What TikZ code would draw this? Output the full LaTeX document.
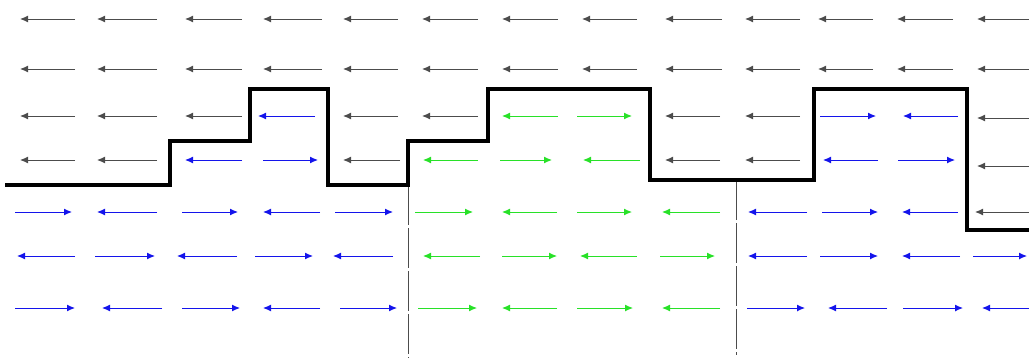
\documentclass[tikz,border=0pt]{standalone}
\usetikzlibrary{arrows.meta}
\definecolor{arrblue}{RGB}{20,20,235}
\definecolor{arrgreen}{RGB}{40,225,40}
\tikzset{
  base/.style={line width=1pt,-{Latex[length=8pt,width=7pt]}},
  blk/.style={base,black!70},
  blu/.style={base,arrblue},
  grn/.style={base,arrgreen},
  stepline/.style={line width=3.4pt,black,line join=miter},
  divider/.style={line width=0.7pt,black!70,dash pattern=on 40pt off 3pt}
}
\newcommand\arw[4]{\draw[#1] (#2,#4) -- (#3,#4);}
\begin{document}
\begin{tikzpicture}[x=1pt,y=-1pt]
\useasboundingbox (0,0) rectangle (1029,360);
% rows 1 and 2: black, pointing left
\foreach \y in {19,69}{
  \foreach \h/\t in {20/75,97/157,185/242,263/322,343/398,422/478,502/558,582/637,665/722,745/800,818/873,897/953,977/1029}{
    \arw{blk}{\t}{\h}{\y}
  }
}
% row 3
\foreach \h/\t in {20/75,97/157,185/242,343/398,422/478,665/720,745/800}{\arw{blk}{\t}{\h}{116}}
\arw{blu}{315}{258}{116}
\arw{grn}{558}{502}{116}
\arw{grn}{577}{632}{116}
\arw{blu}{820}{876}{116}
\arw{blu}{958}{903}{116}
\arw{blk}{1029}{977}{118}
% row 4
\foreach \h/\t in {20/75,97/157,343/400,665/720,745/800}{\arw{blk}{\t}{\h}{160}}
\arw{blu}{242}{185}{160}
\arw{blu}{263}{318}{160}
\arw{grn}{478}{423}{160}
\arw{grn}{500}{552}{160}
\arw{grn}{640}{583}{160}
\arw{blu}{878}{823}{160}
\arw{blu}{898}{955}{160}
\arw{blk}{1029}{977}{166}
% row 5
\foreach \a/\b in {15/72,157/97,182/238,320/263,335/393,807/748,822/878,958/902}{\arw{blu}{\a}{\b}{212}}
\foreach \a/\b in {415/473,557/502,577/632,720/662}{\arw{grn}{\a}{\b}{212}}
\arw{blk}{1029}{975}{212}
% row 6
\foreach \a/\b in {75/17,95/155,237/177,255/313,393/333,807/748,820/878,960/902,973/1027}{\arw{blu}{\a}{\b}{256}}
\foreach \a/\b in {480/423,502/557,637/580,660/715}{\arw{grn}{\a}{\b}{256}}
% row 7
\foreach \a/\b in {15/75,162/102,182/240,320/263,340/397,747/805,887/828,903/963,1029/982}{\arw{blu}{\a}{\b}{308}}
\foreach \a/\b in {418/477,557/502,577/633,720/662}{\arw{grn}{\a}{\b}{308}}
% dividers
\draw[divider] (408,185) -- (408,358);
\draw[divider] (736,180) -- (736,355);
% step line
\draw[stepline] (5,185) -- (170,185) -- (170,141) -- (250,141) -- (250,89) -- (328,89) -- (328,185)
  -- (408,185) -- (408,141) -- (488,141) -- (488,89) -- (650,89) -- (650,180)
  -- (814,180) -- (814,89) -- (967,89) -- (967,230) -- (1029,230);
\end{tikzpicture}
\end{document}
